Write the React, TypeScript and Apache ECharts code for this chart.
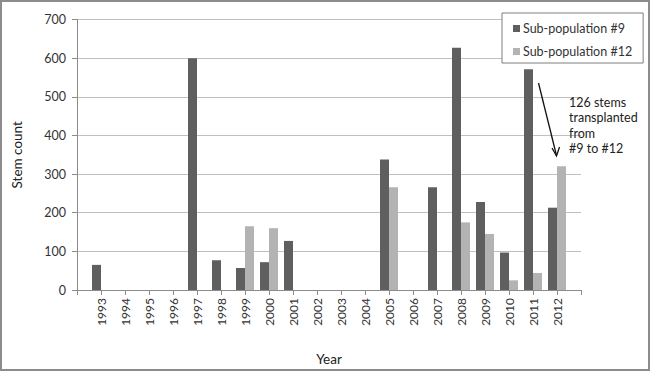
import React, { useEffect, useRef } from "react";
import * as echarts from "echarts";

const years = ["", "1993", "1994", "1995", "1996", "1997", "1998", "1999", "2000", "2001", "2002", "2003", "2004", "2005", "2006", "2007", "2008", "2009", "2010", "2011", "2012", ""];
const sub9 = [null, 65, null, null, null, 600, 77, 57, 72, 127, null, null, null, 338, null, 266, 627, 228, 97, 571, 213, null];
const sub12 = [null, null, null, null, null, null, null, 165, 160, null, null, null, null, 266, null, null, 175, 145, 25, 44, 320, null];
const yTicks = [0, 100, 200, 300, 400, 500, 600, 700];
const seriesNames = ["Sub-population #9", "Sub-population #12"];
const annotation = "126 stems\ntransplanted\nfrom\n#9 to #12";

const FONT = "Lato, 'Open Sans', sans-serif";

export default function App() {
  const ref = useRef<HTMLDivElement>(null);
  useEffect(() => {
    if (!ref.current) return;
    const chart = echarts.init(ref.current, null, { renderer: "svg" });
    chart.setOption({
      animation: false,
      backgroundColor: "#ffffff",
      textStyle: { fontFamily: FONT },
      grid: { left: 77, right: 69, top: 19.5, bottom: 79.5, containLabel: false },
      legend: {
        orient: "vertical",
        left: 502,
        top: 13,
        padding: [9, 11, 5, 11],
        itemGap: 10,
        itemWidth: 7,
        itemHeight: 7,
        icon: "rect",
        borderColor: "#7f7f7f",
        borderWidth: 1,
        backgroundColor: "#ffffff",
        textStyle: { fontFamily: FONT, fontSize: 12.5, color: "#333333", padding: [0, 0, 0, -2] },
        data: seriesNames,
      },
      xAxis: {
        type: "category",
        data: years,
        boundaryGap: false,
        name: "Year",
        nameLocation: "middle",
        nameGap: 62,
        nameTextStyle: { fontFamily: FONT, fontSize: 13.5, color: "#222222" },
        axisLine: { show: true, lineStyle: { color: "#8c8c8c", width: 1 } },
        axisTick: { show: true, length: 5, interval: 0, lineStyle: { color: "#8c8c8c" } },
        axisLabel: { interval: 0, rotate: 90, margin: 8, fontSize: 12, color: "#333333", fontFamily: FONT },
        splitLine: { show: false },
      },
      yAxis: {
        type: "value",
        min: 0,
        max: 700,
        interval: 100,
        name: "Stem count",
        nameLocation: "middle",
        nameGap: 53,
        nameRotate: 90,
        nameTextStyle: { fontFamily: FONT, fontSize: 13.5, color: "#222222" },
        axisLine: { show: true, lineStyle: { color: "#8c8c8c" } },
        axisTick: { show: true, length: 5, lineStyle: { color: "#8c8c8c" } },
        axisLabel: {
          margin: 11,
          fontSize: 12.5,
          color: "#333333",
          fontFamily: FONT,
          formatter: (v: number) => (yTicks.includes(v) ? String(v) : ""),
        },
        splitLine: { show: true, lineStyle: { color: "#c0c0c0", width: 1 } },
      },
      series: [
        {
          name: seriesNames[0],
          type: "bar",
          data: sub9,
          barWidth: 9,
          barGap: "0%",
          itemStyle: { color: "#5f5f5f" },
        },
        {
          name: seriesNames[1],
          type: "bar",
          data: sub12,
          barWidth: 9,
          barGap: "0%",
          itemStyle: { color: "#b3b3b3" },
        },
      ],
      graphic: [
        {
          type: "rect",
          silent: true,
          shape: { x: 1, y: 1, width: 648, height: 369 },
          style: { fill: "none", stroke: "#8c8c8c", lineWidth: 2 },
          z: 100,
        },
        {
          type: "line",
          shape: { x1: 538.5, y1: 83, x2: 556.5, y2: 155.5 },
          style: { stroke: "#111111", lineWidth: 1.3 },
          z: 100,
        },
        {
          type: "polyline",
          shape: { points: [[552, 148], [556.5, 156], [559.5, 147]] },
          style: { stroke: "#111111", lineWidth: 1.3, fill: "none" },
          z: 100,
        },
        {
          type: "text",
          x: 569,
          y: 95,
          style: {
            text: annotation,
            fontFamily: FONT,
            fontSize: 12.5,
            lineHeight: 15.3,
            fill: "#222222",
          },
          z: 100,
        },
      ],
    });
    return () => chart.dispose();
  }, []);
  return (
    <div
      ref={ref}
      style={{ position: "fixed", left: 0, top: 0, width: 650, height: 371 }}
    />
  );
}
